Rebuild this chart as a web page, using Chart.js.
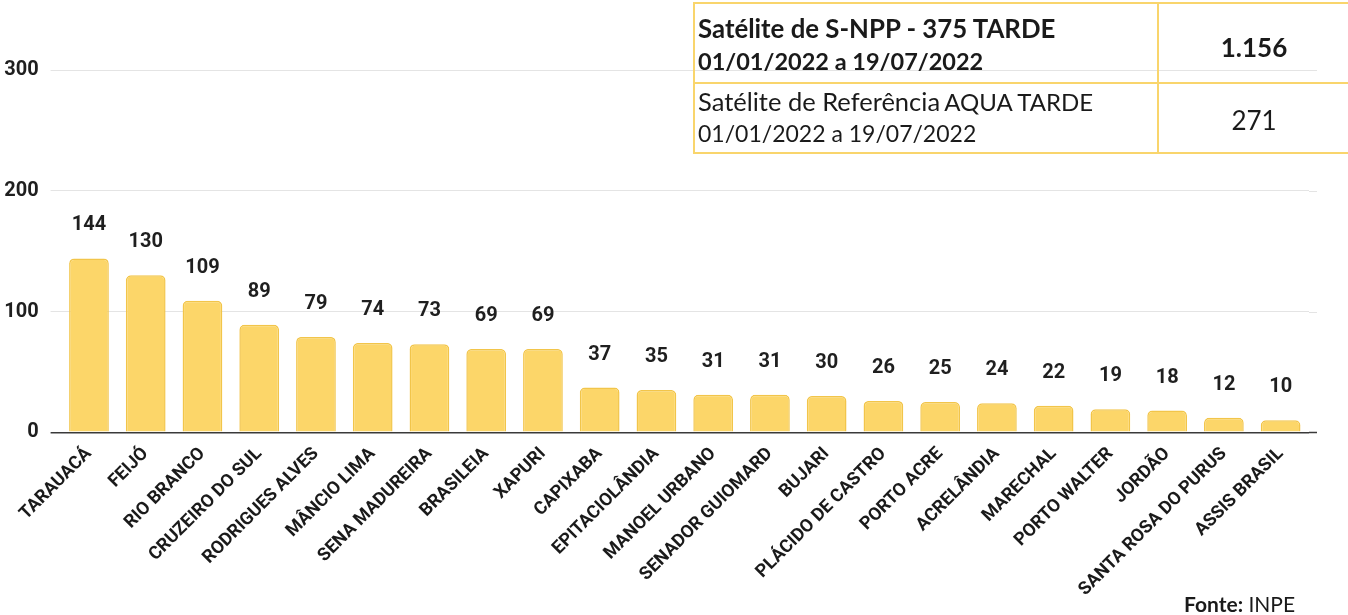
<!DOCTYPE html>
<html>
<head>
<meta charset="utf-8">
<script src="https://cdn.jsdelivr.net/npm/chart.js"></script>
<style>
  body { margin: 0; background: #fff; overflow: hidden; }
  #wrap { position: relative; width: 1348px; height: 615px; overflow: hidden; }
  #chartCanvas { position: absolute; left: 0; top: 0; }
  .box { position: absolute; border: 2px solid #f9d56c; box-sizing: border-box; }
  .txt { position: absolute; font-family: Lato, sans-serif; color: #1a1a1a; white-space: nowrap; line-height: 1; }
</style>
</head>
<body>
<div id="wrap">
  <canvas id="chartCanvas" width="1348" height="615"></canvas>

  <!-- table top right -->
  <div class="box" style="left:693px; top:2px; width:700px; height:152px;"></div>
  <div class="box" style="left:693px; top:82px; width:700px; height:2px; border-width:1px;"></div>
  <div class="box" style="left:1157px; top:2px; width:2px; height:152px; border-width:1px;"></div>
  <div class="txt" style="left:698px; top:16px; font-size:25.8px; font-weight:bold;">Satélite de S-NPP - 375 TARDE</div>
  <div class="txt" style="left:698px; top:50px; font-size:23.5px; font-weight:bold;">01/01/2022 a 19/07/2022</div>
  <div class="txt" style="left:1159px; width:190px; text-align:center; top:34px; font-size:26px; font-weight:bold;">1.156</div>
  <div class="txt" style="left:698px; top:89px;"><span style="font-size:25.5px;">Satélite de Referência</span> <span style="font-size:24px;">AQUA TARDE</span></div>
  <div class="txt" style="left:698px; top:122px; font-size:23px;">01/01/2022 a 19/07/2022</div>
  <div class="txt" style="left:1159px; width:190px; text-align:center; top:107px; font-size:26px;">271</div>

  <div class="txt" style="left:1184px; top:593px; font-size:21px;"><b>Fonte:</b> INPE</div>
</div>

<script>
const categories = [
  "TARAUACÁ", "FEIJÓ", "RIO BRANCO", "CRUZEIRO DO SUL", "RODRIGUES ALVES",
  "MÂNCIO LIMA", "SENA MADUREIRA", "BRASILEIA", "XAPURI", "CAPIXABA",
  "EPITACIOLÂNDIA", "MANOEL URBANO", "SENADOR GUIOMARD", "BUJARI",
  "PLÁCIDO DE CASTRO", "PORTO ACRE", "ACRELÂNDIA", "MARECHAL",
  "PORTO WALTER", "JORDÃO", "SANTA ROSA DO PURUS", "ASSIS BRASIL"
];

const focos = [144, 130, 109, 89, 79, 74, 73, 69, 69, 37, 35, 31, 31, 30, 26, 25, 24, 22, 19, 18, 12, 10];

const yTicks = [0, 100, 200, 300];

// gridlines run a little past the right edge of the bars
const gridExtend = {
  id: 'gridExtend',
  beforeDatasetsDraw(chart) {
    const ctx = chart.ctx;
    const y = chart.scales.y;
    const right = chart.chartArea.right;
    ctx.save();
    y.ticks.forEach((t) => {
      const py = Math.round(y.getPixelForValue(t.value)) + 0.5;
      ctx.strokeStyle = t.value === 0 ? '#3a3a3a' : '#e4e4e4';
      ctx.lineWidth = t.value === 0 ? 1.5 : 1;
      ctx.beginPath();
      ctx.moveTo(right, py);
      ctx.lineTo(right + 8, py);
      ctx.stroke();
    });
    ctx.restore();
  }
};

// value labels above each bar
const valueLabels = {
  id: 'valueLabels',
  afterDatasetsDraw(chart) {
    const ctx = chart.ctx;
    const meta = chart.getDatasetMeta(0);
    ctx.save();
    ctx.font = 'bold 20px Roboto';
    ctx.fillStyle = '#1f1f1f';
    ctx.textAlign = 'center';
    ctx.textBaseline = 'middle';
    meta.data.forEach((bar, i) => {
      ctx.fillText(focos[i], bar.x, bar.y - 33);
    });
    ctx.restore();
  }
};

const ctx = document.getElementById('chartCanvas').getContext('2d');

new Chart(ctx, {
  type: 'bar',
  data: {
    labels: categories,
    datasets: [{
      data: focos,
      backgroundColor: '#fcd669',
      borderColor: '#f2c54a',
      borderWidth: 1.5,
      borderRadius: { topLeft: 5, topRight: 5, bottomLeft: 0, bottomRight: 0 },
      borderSkipped: 'bottom',
      barPercentage: 0.7,
      categoryPercentage: 1.0
    }]
  },
  options: {
    responsive: false,
    animation: false,
    devicePixelRatio: 1,
    layout: { padding: { top: 70, right: 39, bottom: 0, left: 0 } },
    plugins: {
      legend: { display: false },
      tooltip: { enabled: false }
    },
    scales: {
      x: {
        grid: { display: false },
        border: { display: false },
        ticks: {
          autoSkip: false,
          minRotation: 45,
          maxRotation: 45,
          padding: 3,
          color: '#1a1a1a',
          font: { family: 'Roboto', weight: 'bold', size: 18 }
        },
        afterFit(scale) { scale.height = 182.7; }
      },
      y: {
        min: 0,
        max: 300,
        border: { display: false },
        grid: {
          color: (c) => c.tick && c.tick.value === 0 ? '#3a3a3a' : '#e4e4e4',
          lineWidth: (c) => c.tick && c.tick.value === 0 ? 1.5 : 1,
          tickLength: 10
        },
        afterBuildTicks(scale) {
          scale.ticks = yTicks.map(v => ({ value: v }));
        },
        ticks: {
          padding: 12,
          color: '#1f1f1f',
          font: { family: 'Roboto', weight: 'bold', size: 20 }
        },
        afterFit(scale) { scale.width = 60.6; }
      }
    }
  },
  plugins: [gridExtend, valueLabels]
});
</script>
</body>
</html>
